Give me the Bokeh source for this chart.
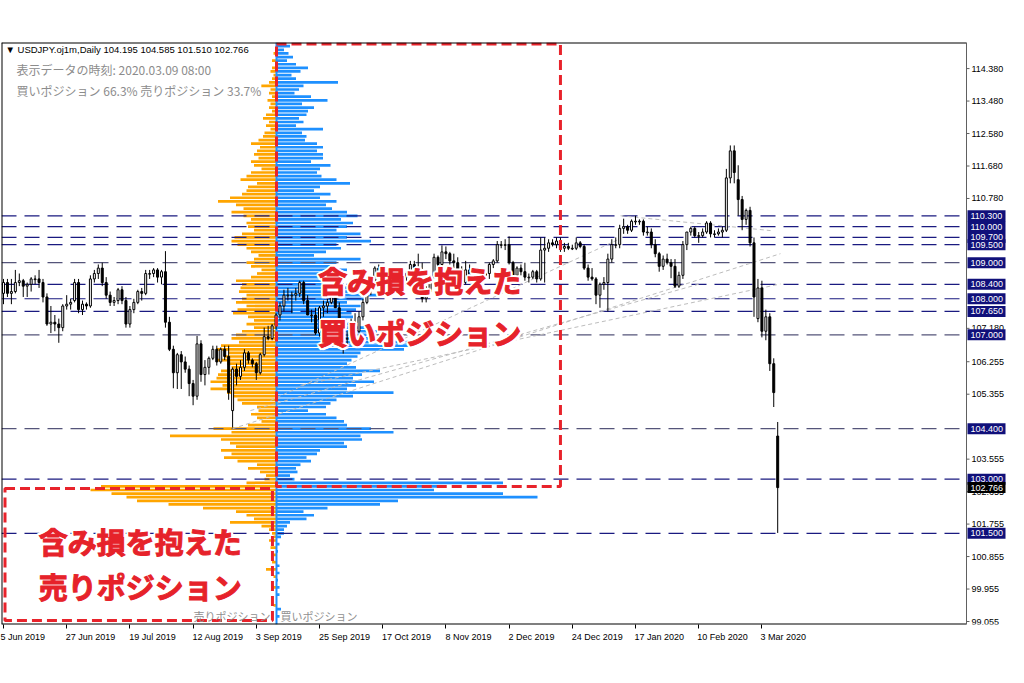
import pandas as pd
from bokeh.plotting import figure
from bokeh.models import Range1d, FixedTicker, Label, ColumnDataSource
from bokeh.core.properties import value
from bokeh.embed import file_html
from bokeh.resources import INLINE

# ---------------- data ----------------
_bd = pd.bdate_range("2019-06-05", "2020-03-09")
dates = [d for d in _bd if not ((d.month == 12 and d.day == 25) or (d.month == 1 and d.day == 1))]

open_ = [108.15,108.45,108.15,108.20,108.45,108.50,108.35,108.40,108.55,108.55,
         108.45,108.05,107.30,107.35,107.30,107.20,107.80,107.85,107.95,108.45,
         107.70,107.85,107.80,108.55,108.70,108.85,108.45,108.10,107.90,107.95,
         108.25,107.95,107.30,107.70,107.90,108.20,108.15,108.70,108.70,108.80,
         108.60,108.75,107.35,106.60,105.95,106.45,106.25,106.05,105.65,105.30,
         106.75,105.90,106.10,106.35,106.60,106.25,106.60,106.40,104.90,106.05,
         105.85,106.10,106.50,106.30,106.20,105.95,106.45,106.95,106.90,107.25,
         107.55,107.80,108.10,108.10,108.10,108.15,108.45,107.95,107.55,107.55,
         107.05,107.75,107.80,107.90,108.05,107.75,107.15,106.90,106.90,107.25,
         107.10,107.50,107.90,108.30,108.40,108.85,108.75,108.65,108.45,108.60,
         108.50,108.70,108.60,108.70,108.95,108.85,108.80,108.00,108.20,108.60,
         109.15,108.95,109.30,109.25,109.05,109.00,108.80,108.45,108.80,108.65,
         108.60,108.55,108.65,108.70,108.95,109.05,109.50,109.50,109.50,109.00,
         108.65,108.85,108.75,108.60,108.60,108.75,108.55,109.35,109.40,109.55,
         109.50,109.60,109.40,109.45,109.40,109.40,109.55,109.45,108.85,108.60,
         108.55,108.10,108.40,108.45,109.10,109.50,109.50,109.95,110.00,109.90,
         110.15,110.15,110.15,109.85,109.85,109.50,109.25,108.90,109.10,109.00,
         108.90,108.35,108.65,109.50,109.85,109.95,109.75,109.75,109.85,110.10,
         109.80,109.80,109.85,109.90,111.35,112.10,111.30,110.75,110.20,110.45,
         109.55,107.45,108.30,107.10,107.50,106.20,104.195]
high = [108.55,108.55,108.55,108.80,108.70,108.55,108.45,108.60,108.65,108.80,
        108.55,108.15,107.80,107.55,107.45,107.85,108.10,108.00,108.55,108.55,
        107.95,107.90,108.65,108.80,108.95,109.00,108.60,108.20,108.05,108.30,
        108.35,108.05,107.80,108.00,108.25,108.30,108.80,108.80,108.85,108.85,
        108.80,109.32,107.50,106.70,106.50,106.55,106.40,106.15,105.75,106.97,
        106.85,106.30,106.40,106.70,106.70,106.65,106.70,106.70,106.10,106.20,
        106.30,106.60,106.55,106.35,106.25,106.50,107.20,107.25,107.30,107.60,
        107.90,108.25,108.30,108.20,108.30,108.50,108.50,108.10,107.70,107.75,
        107.80,107.95,108.00,108.20,108.47,107.90,107.30,107.10,107.45,107.60,
        107.65,108.00,108.60,108.45,108.90,108.95,108.85,108.75,108.70,108.70,
        108.75,108.80,108.75,109.05,109.05,109.25,109.00,108.35,108.65,109.25,
        109.20,109.48,109.45,109.30,109.25,109.15,108.90,109.05,108.95,108.75,
        108.75,108.70,108.80,109.00,109.10,109.60,109.60,109.65,109.73,109.05,
        108.90,108.95,109.00,108.70,108.80,108.80,109.70,109.70,109.65,109.65,
        109.70,109.70,109.55,109.55,109.50,109.70,109.60,109.50,108.95,108.85,
        108.60,108.45,108.60,109.25,109.65,109.70,110.05,110.22,110.05,110.20,
        110.30,110.20,110.20,110.00,109.95,109.65,109.30,109.20,109.25,109.10,
        109.10,108.75,109.60,109.85,110.00,110.00,109.85,109.95,110.15,110.15,
        109.90,109.95,110.00,111.60,112.25,112.25,111.70,110.85,110.50,110.55,
        109.70,108.55,108.50,107.70,107.60,106.35,104.585]
low = [107.85,108.05,107.85,108.15,108.35,108.05,108.05,108.20,108.40,108.30,
       107.90,107.25,107.05,107.10,106.78,107.10,107.70,107.70,107.90,107.60,
       107.55,107.70,107.75,108.45,108.55,108.35,108.00,107.80,107.80,107.85,
       107.85,107.20,107.20,107.60,107.85,107.95,108.10,108.55,108.60,108.45,
       108.40,107.20,106.55,105.52,105.50,105.50,105.95,105.30,105.05,105.20,
       105.70,105.60,105.90,106.30,106.15,106.20,106.30,105.20,104.43,105.60,
       105.75,106.00,106.20,106.10,105.75,105.90,106.40,106.85,106.85,107.15,
       107.40,107.65,107.95,107.60,107.95,108.05,107.85,107.55,107.35,107.00,
       106.95,107.50,107.60,107.85,107.75,107.05,106.48,106.65,106.85,107.00,
       107.05,107.40,107.85,108.10,108.25,108.60,108.50,108.30,108.40,108.35,
       108.45,108.50,108.50,108.60,108.75,108.70,107.90,107.90,108.15,108.55,
       108.85,108.90,109.10,108.95,108.85,108.70,108.25,108.40,108.60,108.50,
       108.30,108.25,108.50,108.55,108.85,109.00,109.40,109.35,108.95,108.45,
       108.45,108.65,108.50,108.45,108.55,108.45,108.50,108.45,109.30,109.45,
       109.40,109.30,109.30,109.35,109.35,109.35,109.40,108.80,108.50,108.50,
       107.85,107.75,108.25,107.65,109.00,109.40,109.40,109.80,109.80,109.85,
       110.05,110.05,109.75,109.75,109.40,109.15,108.75,108.80,108.95,108.57,
       108.30,108.30,108.55,109.35,109.75,109.70,109.55,109.70,109.80,109.70,
       109.70,109.75,109.70,109.85,111.20,111.20,110.30,109.90,110.05,109.45,
       107.50,107.35,106.93,106.85,106.00,105.00,101.510]
close = [108.45,108.15,108.20,108.45,108.50,108.35,108.40,108.55,108.55,108.45,
         108.05,107.30,107.35,107.30,107.20,107.80,107.85,107.90,108.45,107.70,
         107.85,107.80,108.55,108.70,108.85,108.45,108.10,107.90,107.95,108.25,
         107.95,107.30,107.70,107.90,108.20,108.15,108.70,108.70,108.80,108.60,
         108.75,107.35,106.60,105.95,106.45,106.25,106.05,105.65,105.30,106.75,
         105.90,106.10,106.35,106.60,106.25,106.60,106.40,105.40,106.05,105.85,
         106.10,106.50,106.30,106.20,105.95,106.45,106.95,106.90,107.25,107.55,
         107.80,108.10,108.10,108.10,108.15,108.45,107.95,107.55,107.55,107.05,
         107.75,107.80,107.90,108.05,107.75,107.15,106.90,106.90,107.25,107.10,
         107.50,107.90,108.30,108.40,108.85,108.75,108.65,108.45,108.60,108.50,
         108.70,108.60,108.70,108.95,108.85,108.80,108.00,108.20,108.60,109.15,
         108.95,109.30,109.25,109.05,109.00,108.80,108.45,108.80,108.65,108.60,
         108.55,108.65,108.70,108.95,109.05,109.50,109.50,109.50,109.00,108.65,
         108.85,108.75,108.60,108.60,108.75,108.55,109.35,109.40,109.55,109.50,
         109.60,109.40,109.45,109.40,109.40,109.55,109.45,108.85,108.60,108.55,
         108.10,108.40,108.45,109.10,109.50,109.50,109.95,110.00,109.90,110.15,
         110.15,110.15,109.85,109.85,109.50,109.25,108.90,109.10,109.00,108.90,
         108.35,108.65,109.50,109.85,109.95,109.75,109.75,109.85,110.10,109.80,
         109.80,109.85,109.90,111.35,112.10,111.50,110.75,110.20,110.45,109.55,
         108.05,108.30,107.10,107.50,106.20,105.40,102.766]

# order book (position ratio, %) per 0.1 price level, from 115.0 down to 99.0
ob_levels = [round(115.0 - 0.1 * i, 1) for i in range(161)]
buy_pct = [0.09,0.05,0.08,0.11,0.07,0.13,0.21,0.16,0.10,0.13,
           0.41,0.18,0.15,0.12,0.23,0.34,0.17,0.25,0.21,0.20,
           0.15,0.18,0.13,0.31,0.17,0.20,0.19,0.27,0.31,0.27,
           0.31,0.31,0.23,0.36,0.29,0.27,0.30,0.40,0.49,0.29,
           0.25,0.36,0.29,0.40,0.33,0.37,0.47,0.54,0.43,0.51,
           0.47,0.40,0.56,0.47,0.63,0.40,0.43,0.33,0.25,0.56,
           0.40,0.37,0.47,0.33,0.40,0.37,0.45,0.47,0.53,0.67,
           0.58,0.47,0.56,0.53,0.50,0.51,0.47,0.53,0.60,0.67,
           0.60,0.73,0.98,0.90,0.85,0.56,0.54,0.50,0.47,0.53,
           0.69,0.57,0.51,0.65,0.53,0.47,0.78,0.51,0.40,0.36,
           0.33,0.21,0.33,0.40,0.45,0.47,0.63,0.78,0.56,0.57,
           0.45,0.47,0.29,0.27,0.20,0.23,0.16,0.13,0.14,0.09,
           0.12,1.51,1.13,1.05,1.51,1.74,0.81,0.69,0.34,0.18,
           0.25,0.20,0.09,0.07,0.05,0.05,0.03,0.00,0.02,0.00,
           0.01,0.00,0.00,0.00,0.02,0.00,0.02,0.00,0.01,0.00,
           0.02,0.00,0.02,0.00,0.00,0.00,0.03,0.00,0.02,0.00,
           0.00]
sell_pct = [0.00,0.00,0.02,0.00,0.03,0.00,0.03,0.04,0.02,0.03,
            0.05,0.13,0.04,0.05,0.03,0.06,0.04,0.05,0.03,0.07,
            0.09,0.05,0.07,0.04,0.08,0.09,0.12,0.17,0.11,0.13,
            0.15,0.12,0.17,0.15,0.10,0.17,0.20,0.24,0.13,0.19,
            0.20,0.23,0.31,0.39,0.27,0.22,0.30,0.22,0.17,0.20,
            0.19,0.15,0.23,0.28,0.30,0.26,0.20,0.17,0.12,0.15,
            0.20,0.17,0.10,0.13,0.17,0.27,0.23,0.24,0.25,0.20,
            0.23,0.27,0.20,0.26,0.29,0.19,0.15,0.20,0.15,0.23,
            0.27,0.30,0.25,0.37,0.40,0.32,0.35,0.40,0.33,0.30,
            0.37,0.39,0.40,0.44,0.36,0.44,0.33,0.30,0.26,0.23,
            0.13,0.12,0.17,0.13,0.10,0.19,0.42,0.30,0.71,0.37,
            0.31,0.27,0.37,0.30,0.35,0.26,0.13,0.19,0.11,0.07,
            0.08,0.20,1.17,1.24,1.10,1.00,0.93,0.72,0.49,0.27,
            0.20,0.15,0.31,0.10,0.05,0.03,0.02,0.05,0.00,0.04,
            0.00,0.02,0.00,0.03,0.00,0.07,0.00,0.02,0.00,0.00,
            0.03,0.00,0.00,0.00,0.00,0.02,0.00,0.00,0.00,0.00,
            0.00]

# horizontal price levels drawn on the chart
level_prices = [110.300, 110.000, 109.700, 109.500, 109.000, 108.400, 108.000, 107.650, 107.000, 104.400, 103.000, 101.500]
level_colors = ["#1a1a80", "#1a1a80", "#1a1a80", "#1a1a80", "#55557a", "#1a1a80", "#1a1a80", "#1a1a80", "#55557a", "#55557a", "#1a1a80", "#1a1a80"]
last_price = 102.766

# faint trend lines (bar index, price)
trend_x0 = [58, 62.5, 67.6, 75.2, 156.2]
trend_y0 = [104.40, 104.90, 105.18, 105.60, 110.30]
trend_x1 = [196.7, 176.5, 156.2, 196.7, 194.2]
trend_y1 = [109.25, 108.42, 109.67, 108.41, 109.89]

# date axis labels
date_tick_idx = [0, 16, 32, 48, 64, 80, 96, 112, 128, 144, 160, 176, 192]
date_tick_lab = ["5 Jun 2019", "27 Jun 2019", "19 Jul 2019", "12 Aug 2019", "3 Sep 2019", "25 Sep 2019",
                 "17 Oct 2019", "8 Nov 2019", "2 Dec 2019", "24 Dec 2019", "17 Jan 2020", "10 Feb 2020", "3 Mar 2020"]
price_ticks = [99.055, 99.955, 100.855, 101.755, 102.655, 103.555, 105.355, 106.255, 107.180,
               110.780, 111.680, 112.580, 113.480, 114.380]

# annotation boxes (order-book units %, price)
box_left = [0.0, -1.81]
box_right = [1.893, -0.027]
box_top = [115.06, 102.74]
box_bottom = [102.80, 99.08]

# ---------------- layout constants ----------------
PXB = 3.95                     # pixels per bar
FRAME_W, FRAME_H = 1007, 582
X0 = -0.506
X1 = X0 + FRAME_W / PXB
Y0, Y1 = 98.972, 115.103
PXY = FRAME_H / (Y1 - Y0)
AX = X0 + 965 / PXB            # position of the price axis line
OB0 = -275 / 150.0
OB1 = (FRAME_W - 275) / 150.0

p = figure(width=1008, height=655, x_range=Range1d(X0, X1), y_range=Range1d(Y0, Y1),
           y_axis_location=None, output_backend="svg", toolbar_location=None,
           min_border_left=1, min_border_top=42, min_border_right=0, min_border_bottom=31)
p.extra_x_ranges = {"ob": Range1d(OB0, OB1)}
p.grid.visible = False
p.outline_line_color = None
p.background_fill_color = "white"
p.border_fill_color = "white"

# order book histograms
ob = ColumnDataSource(dict(level=ob_levels, buy=buy_pct, sell=[-v for v in sell_pct]))
p.hbar(y="level", left=0, right="buy", height=0.075, source=ob, x_range_name="ob",
       fill_color="#1e90ff", line_color=None)
p.hbar(y="level", left="sell", right=0, height=0.075, source=ob, x_range_name="ob",
       fill_color="#ffa500", line_color=None)
p.segment(x0=[0], y0=[Y0], x1=[0], y1=[Y1], x_range_name="ob", line_color="#1e90ff", line_width=2)

# horizontal levels
p.segment(x0=[X0] * len(level_prices), y0=level_prices, x1=[AX] * len(level_prices), y1=level_prices,
          line_color=level_colors, line_dash="15 8", line_width=1.2)

# trend lines
p.segment(x0=trend_x0, y0=trend_y0, x1=trend_x1, y1=trend_y1, line_color="#bdbdbd", line_dash="4 3", line_width=1)

# candles
idx = list(range(len(close)))
body_top = [max(o, c) for o, c in zip(open_, close)]
body_bot = [min(o, c) if abs(o - c) > 0.02 else max(o, c) - 0.02 for o, c in zip(open_, close)]
fills = ["white" if c >= o else "black" for o, c in zip(open_, close)]
cs = ColumnDataSource(dict(x=idx, high=high, low=low, top=body_top, bot=body_bot, fill=fills))
p.segment(x0="x", y0="high", x1="x", y1="low", source=cs, line_color="black", line_width=1)
p.vbar(x="x", top="top", bottom="bot", width=0.5, source=cs, fill_color="fill", line_color="black", line_width=1)

# red dashed boxes
p.quad(left=box_left, right=box_right, top=box_top, bottom=box_bottom, x_range_name="ob",
       fill_alpha=0, line_color="#e8232b", line_width=3, line_dash="10 5")

# chart frame (left, top, bottom) and price axis line
p.segment(x0=[X0, X0, X0], y0=[Y0, Y1, Y0], x1=[X0, AX, AX], y1=[Y1, Y1, Y0], line_color="black", line_width=2)
p.segment(x0=[AX], y0=[Y0], x1=[AX], y1=[Y1], line_color="#606060", line_width=1)

# price axis ticks + labels
p.segment(x0=[AX] * len(price_ticks), y0=price_ticks, x1=[AX + 3 / PXB] * len(price_ticks), y1=price_ticks,
          line_color="#606060", line_width=1)
p.text(x=[AX] * len(price_ticks), y=price_ticks, text=["%.3f" % t for t in price_ticks], x_offset=5,
       text_font=value("Liberation Sans"), text_font_size="9px", text_color="black",
       text_baseline="middle", text_align="left")

# price level boxes on the axis
lv_sorted = sorted(level_prices) + [last_price]
lv_fill = ["#10107a"] * len(level_prices) + ["black"]
hh = 5.5 / PXY
p.quad(left=[AX + 1 / PXB] * len(lv_sorted), right=[AX + 39 / PXB] * len(lv_sorted),
       top=[v + hh for v in lv_sorted], bottom=[v - hh for v in lv_sorted],
       fill_color=lv_fill, line_color=None)
p.text(x=[AX] * len(lv_sorted), y=lv_sorted, text=["%.3f" % v for v in lv_sorted], x_offset=4,
       text_font=value("Liberation Sans"), text_font_size="9px", text_color="white",
       text_baseline="middle", text_align="left")

# date axis (labels left-aligned to their tick through leading no-break spaces)
_w = {' ': .278, 'J': .5, 'u': .556, 'n': .556, 'l': .222, 'A': .667, 'g': .556, 'S': .667, 'e': .556,
      'p': .556, 'O': .778, 'c': .5, 't': .278, 'N': .722, 'o': .556, 'v': .5, 'D': .722, 'F': .611,
      'b': .556, 'M': .833, 'a': .556, 'r': .333}
def _pad(s):
    w = sum(_w.get(ch, .556) for ch in s) * 9 - 2.0
    return "\u00a0" * max(0, round(w / (0.278 * 9))) + s
p.xaxis.ticker = FixedTicker(ticks=date_tick_idx)
p.xaxis.major_label_overrides = {i: (s if i == 0 else _pad(s)) for i, s in zip(date_tick_idx, date_tick_lab)}
p.xaxis.major_label_text_font = "Liberation Sans"
p.xaxis.major_label_text_font_size = "9px"
p.xaxis.major_label_text_color = "black"
p.xaxis.major_tick_in = 0
p.xaxis.major_tick_out = 4
p.xaxis.major_tick_line_color = "black"
p.xaxis.minor_tick_line_color = None
p.xaxis.axis_line_color = None
p.xaxis.major_label_standoff = 3

# info texts
p.add_layout(Label(x=0.5, y=114.91, text="\u25bc USDJPY.oj1m,Daily  104.195 104.585 101.510 102.766",
                   text_font="Liberation Sans", text_font_size="9.5px", text_color="black",
                   text_baseline="middle", background_fill_color="white"))
p.add_layout(Label(x=3.3, y=114.355, text="表示データの時刻: 2020.03.09 08:00",
                   text_font="Noto Sans CJK JP", text_font_size="12px", text_color="#8c8c8c",
                   text_baseline="middle", background_fill_color="white"))
p.add_layout(Label(x=3.3, y=113.77, text="買いポジション 66.3% 売りポジション 33.7%",
                   text_font="Noto Sans CJK JP", text_font_size="12px", text_color="#8c8c8c",
                   text_baseline="middle", background_fill_color="white"))
p.add_layout(Label(x=67.6, y=99.22, text="売りポジション", text_font="Noto Sans CJK JP", text_font_size="11px",
                   text_color="#909090", text_align="right", text_baseline="middle"))
p.add_layout(Label(x=70.1, y=99.22, text="買いポジション", text_font="Noto Sans CJK JP", text_font_size="11px",
                   text_color="#909090", text_align="left", text_baseline="middle"))

# red annotation texts (white halo, then bold red)
red = "#e6222a"
red_texts = [(79.7, 108.51, "含み損を抱えた"), (79.7, 107.07, "買いポジション"),
             (8.9, 101.30, "含み損を抱えた"), (8.9, 100.05, "売りポジション")]
halo = [(-2, 0), (2, 0), (0, -2), (0, 2), (-1.5, -1.5), (1.5, 1.5), (-1.5, 1.5), (1.5, -1.5)]
for (tx, ty, tt) in red_texts:
    for dx, dy in halo:
        p.add_layout(Label(x=tx, y=ty, x_offset=dx, y_offset=dy, text=tt, text_font="Noto Sans CJK JP",
                           text_font_style="bold", text_font_size="29px", text_color="white",
                           text_align="left", text_baseline="middle", text_outline_color="white"))
for (tx, ty, tt) in red_texts:
    p.add_layout(Label(x=tx, y=ty, text=tt, text_font="Noto Sans CJK JP", text_font_style="bold",
                       text_font_size="29px", text_color=red, text_align="left", text_baseline="middle",
                       text_outline_color=red))

open("out.html", "w").write(file_html(p, INLINE))
